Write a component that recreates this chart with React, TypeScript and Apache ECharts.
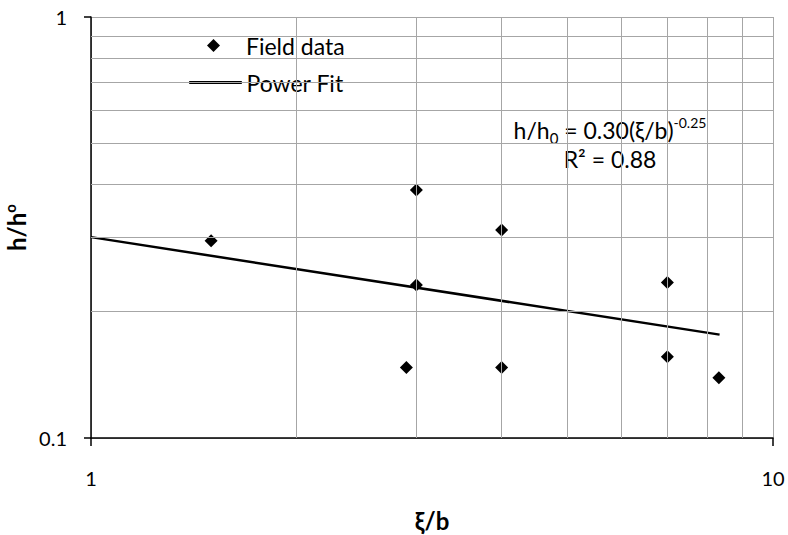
import React, { useEffect, useRef } from "react";
import * as echarts from "echarts";

const fieldX = [1.5, 2.9, 3.0, 3.0, 4.0, 4.0, 7.0, 7.0, 8.33];
const fieldY = [0.294, 0.147, 0.388, 0.231, 0.312, 0.147, 0.234, 0.156, 0.139];
const fitX = [1, 8.35];
const fitY = [0.3, 0.176];
const xMinorGrid = [2, 3, 4, 5, 6, 7, 8, 9];
const yMinorGrid = [0.2, 0.3, 0.4, 0.5, 0.6, 0.7, 0.8, 0.9];
const FONT = "Lato";

export default function App() {
  const ref = useRef<HTMLDivElement>(null);
  useEffect(() => {
    if (!ref.current) return;
    const chart = echarts.init(ref.current, null, { renderer: "svg" });
    const gridLine = { color: "#a6a6a6", width: 1, type: "solid" };
    const legendText = { fontFamily: FONT, fontSize: 23, color: "#000" };
    chart.setOption({
      animation: false,
      textStyle: { fontFamily: FONT },
      grid: { left: 91, right: 15, top: 17, bottom: 97, containLabel: false, outerBoundsMode: "none" },
      legend: [
        {
          data: [{ name: "Field data", icon: "diamond" }],
          left: 207,
          top: 34,
          padding: 0,
          itemWidth: 13,
          itemHeight: 13,
          itemStyle: { color: "#000" },
          textStyle: { ...legendText, padding: [0, 0, 0, 21] },
          selectedMode: false,
        },
        {
          data: [{ name: "Power Fit", icon: "rect" }],
          left: 189,
          top: 71,
          padding: 0,
          itemWidth: 52,
          itemHeight: 2,
          itemStyle: { color: "#000", borderColor: "#000", borderWidth: 1, opacity: 1 },
          lineStyle: { color: "#000", width: 2.5 },
          textStyle: legendText,
          selectedMode: false,
        },
      ],
      xAxis: {
        type: "log",
        logBase: 10,
        min: 1,
        max: 10,
        name: "ξ/b",
        nameLocation: "middle",
        nameGap: 70,
        nameTextStyle: { fontFamily: FONT, fontSize: 24, fontWeight: "bold", color: "#000" },
        axisLine: { lineStyle: { color: "#000", width: 1.5 } },
        axisTick: { show: true, length: 8, lineStyle: { color: "#000", width: 1.5 } },
        axisLabel: { fontFamily: FONT, fontSize: 20, color: "#000", margin: 30 },
        splitLine: { show: true, lineStyle: gridLine },
      },
      yAxis: {
        type: "log",
        logBase: 10,
        min: 0.1,
        max: 1,
        name: "{a|h/h}{sup|o}",
        nameLocation: "middle",
        nameGap: 45,
        nameTextStyle: {
          rich: {
            a: { fontFamily: FONT, fontSize: 24, fontWeight: "bold", color: "#000", lineHeight: 28 },
            sup: { fontFamily: FONT, fontSize: 15, fontWeight: "bold", color: "#000", verticalAlign: "top", lineHeight: 15 },
          },
        },
        axisLine: { show: true, lineStyle: { color: "#000", width: 1.5 } },
        axisTick: { show: true, length: 7, lineStyle: { color: "#000", width: 1.5 } },
        axisLabel: { fontFamily: FONT, fontSize: 20, color: "#000", margin: 24 },
        splitLine: { show: true, lineStyle: gridLine },
      },
      series: [
        {
          name: "grid",
          type: "line",
          data: [],
          z: 1,
          silent: true,
          markLine: {
            silent: true,
            symbol: "none",
            animation: false,
            label: { show: false },
            lineStyle: gridLine,
            emphasis: { disabled: true },
            data: [
              ...xMinorGrid.map((v) => ({ xAxis: v })),
              ...yMinorGrid.map((v) => ({ yAxis: v })),
            ],
          },
        },
        {
          name: "Power Fit",
          type: "line",
          z: 3,
          data: fitX.map((x, i) => [x, fitY[i]]),
          showSymbol: false,
          symbol: "none",
          lineStyle: { color: "#000", width: 2.5 },
          itemStyle: { color: "#000" },
        },
        {
          name: "Field data",
          type: "scatter",
          z: 4,
          symbol: "diamond",
          symbolSize: 13,
          data: fieldX.map((x, i) => [x, fieldY[i]]),
          itemStyle: { color: "#000", opacity: 1 },
        },
      ],
      graphic: [
        {
          type: "text",
          x: 610,
          y: 130,
          style: {
            text: "{a|h/h}{sub|0}{a| = 0.30(ξ/b)}{sup|-0.25}",
            align: "center",
            verticalAlign: "middle",
            rich: {
              a: { fontFamily: FONT, fontSize: 23, color: "#000", lineHeight: 30 },
              sub: { fontFamily: FONT, fontSize: 15, color: "#000", verticalAlign: "bottom", lineHeight: 15 },
              sup: { fontFamily: FONT, fontSize: 14, color: "#000", verticalAlign: "top", lineHeight: 14 },
            },
          },
        },
        {
          type: "text",
          x: 610,
          y: 159,
          style: {
            text: "R² = 0.88",
            align: "center",
            verticalAlign: "middle",
            fontFamily: FONT,
            fontSize: 23,
            fill: "#000",
          },
        },
      ],
    });
    return () => chart.dispose();
  }, []);
  return <div ref={ref} style={{ width: 788, height: 535, position: "absolute", left: 0, top: 0 }} />;
}
